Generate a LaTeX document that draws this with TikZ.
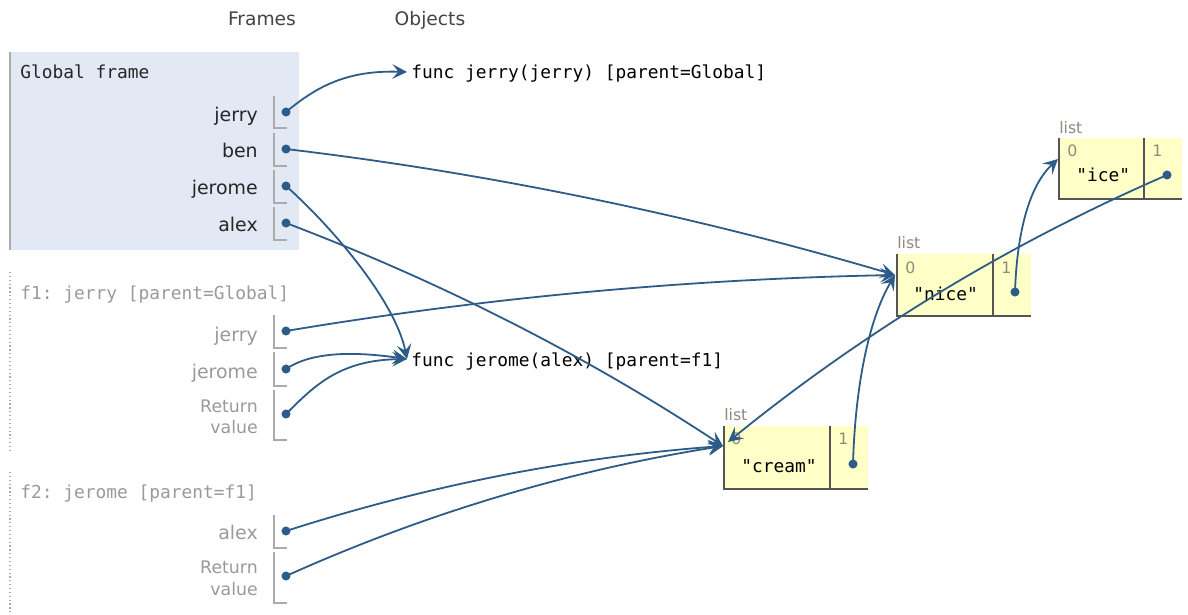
\documentclass[tikz,border=0pt]{standalone}
\usepackage{fontspec}
\setmainfont{DejaVu Sans}
\setmonofont{DejaVu Sans Mono}
\usetikzlibrary{arrows.meta}
\definecolor{arr}{HTML}{2E5C88}
\definecolor{gbg}{HTML}{E2E8F4}
\definecolor{cellbg}{HTML}{FFFFC8}
\definecolor{cellln}{HTML}{555555}
\definecolor{dim}{HTML}{9A9A9A}
\definecolor{brk}{HTML}{ABABAB}
\definecolor{hdr}{HTML}{444444}
\definecolor{idxc}{HTML}{8E8A7E}
\tikzset{
  hdrtxt/.style={anchor=base, inner sep=0, text=hdr, font=\fontsize{14}{16}\selectfont},
  vname/.style={anchor=base east, inner sep=0, text=black!85, font=\fontsize{14.2}{16}\selectfont},
  vdim/.style={vname, text=dim},
  rvname/.style={anchor=base east, inner sep=0, text=dim, font=\fontsize{13}{15}\selectfont},
  ftitle/.style={anchor=base west, inner sep=0, text=black!85, font=\ttfamily\fontsize{13.4}{15}\selectfont},
  ftdim/.style={ftitle, text=dim},
  objtxt/.style={anchor=base west, inner sep=0, text=black, font=\ttfamily\fontsize{13.4}{15}\selectfont},
  listlbl/.style={anchor=base west, inner sep=0, text=idxc, font=\fontsize{11.8}{13}\selectfont},
  idx/.style={anchor=base west, inner sep=0, text=idxc, font=\fontsize{11.8}{13}\selectfont},
  valtxt/.style={anchor=base west, inner sep=0, text=black, font=\ttfamily\fontsize{13.4}{15}\selectfont},
  dotn/.style={circle, fill=arr, inner sep=0, minimum size=6.8pt},
  bracket/.style={draw=brk, line width=0.9pt},
  cellline/.style={draw=cellln, line width=0.9pt},
  ptr/.style={draw=arr, line width=1.35pt, -{Stealth[length=11pt, width=11pt, inset=4.5pt]}},
}
\begin{document}
\begin{tikzpicture}[x=0.75pt, y=-0.75pt]
\useasboundingbox (0,0) rectangle (1188,614);
\fill[white] (0,0) rectangle (1188,614);

% headers
\node[hdrtxt] (hframes) at (262,26) {Frames};
\node[hdrtxt] (hobjects) at (430,26) {Objects};

% Global frame
\fill[gbg] (9,52) rectangle (299,250);
\draw[brk, line width=1.3pt] (10,52) -- (10,250);
\node[ftitle] (gtitle) at (20,78) {Global frame};
\node[vname] (lgjerry) at (258,121) {jerry};
\node[vname] (lgben) at (258,157) {ben};
\node[vname] (lgjerome) at (258,194) {jerome};
\node[vname] (lgalex) at (258,231) {alex};
\draw[bracket] (274,96) |- (287,128);
\draw[bracket] (274,133) |- (287,166);
\draw[bracket] (274,170) |- (287,203);
\draw[bracket] (274,207) |- (287,240);
\node[dotn] (gjerry) at (286,112) {};
\node[dotn] (gben) at (286,149) {};
\node[dotn] (gjerome) at (286,186) {};
\node[dotn] (galex) at (286,223) {};

% f1 frame
\draw[brk, line width=0.9pt, dotted] (10,272) -- (10,450);
\node[ftdim] (f1title) at (20,299) {f1: jerry [parent=Global]};
\node[vdim] (lf1jerry) at (258,341) {jerry};
\node[vdim] (lf1jerome) at (258,378) {jerome};
\node[rvname] (lf1ret) at (258,412) {Return};
\node[rvname] (lf1val) at (258,433) {value};
\draw[bracket] (274,315) |- (287,348);
\draw[bracket] (274,352) |- (287,386);
\draw[bracket] (274,390) |- (287,440);
\node[dotn] (f1jerry) at (286,331) {};
\node[dotn] (f1jerome) at (286,369) {};
\node[dotn] (f1ret) at (286,414) {};

% f2 frame
\draw[brk, line width=0.9pt, dotted] (10,472) -- (10,614);
\node[ftdim] (f2title) at (20,498) {f2: jerome [parent=f1]};
\node[vdim] (lf2alex) at (258,539) {alex};
\node[rvname] (lf2ret) at (258,573) {Return};
\node[rvname] (lf2val) at (258,595) {value};
\draw[bracket] (274,515) |- (287,548);
\draw[bracket] (274,552) |- (287,603);
\node[dotn] (f2alex) at (286,531) {};
\node[dotn] (f2ret) at (286,576) {};

% function objects
\node[objtxt] (fjerry) at (411,78) {func jerry(jerry) [parent=Global]};
\node[objtxt] (fjerome) at (411,366) {func jerome(alex) [parent=f1]};
\coordinate (fjerryin) at (407,72);
\coordinate (fjeromein) at (407,359);

% list: ice
\node[listlbl] (icelbl) at (1059,133) {list};
\fill[cellbg] (1059,138) rectangle (1182,199);
\draw[cellline] (1059,138) -- (1059,199) -- (1182,199);
\draw[cellline] (1144,138) -- (1144,199);
\node[idx] (ice0) at (1067,156) {0};
\node[idx] (ice1) at (1152,156) {1};
\node[valtxt] (iceval) at (1076,181) {"ice"};
\node[dotn] (ice1p) at (1167,175) {};
\coordinate (icein) at (1058,159);

% list: nice
\node[listlbl] (nicelbl) at (897,248) {list};
\fill[cellbg] (897,254) rectangle (1031,316);
\draw[cellline] (897,254) -- (897,316) -- (1031,316);
\draw[cellline] (993,254) -- (993,316);
\node[idx] (nice0) at (905,273) {0};
\node[idx] (nice1) at (1001,273) {1};
\node[valtxt] (niceval) at (913,300) {"nice"};
\node[dotn] (nice1p) at (1015,292) {};
\coordinate (nicein) at (895,275);

% list: cream
\node[listlbl] (creamlbl) at (724,420) {list};
\fill[cellbg] (724,426) rectangle (868,489);
\draw[cellline] (724,426) -- (724,489) -- (868,489);
\draw[cellline] (830,426) -- (830,489);
\node[idx] (cream0) at (731,444) {0};
\node[idx] (cream1) at (838,444) {1};
\node[valtxt] (creamval) at (741,472) {"cream"};
\node[dotn] (cream1p) at (853,464) {};
\coordinate (creamin) at (723,446);
\coordinate (creamin2) at (728,442);

% pointers
\draw[ptr] (gjerry.center) .. controls (315,88) and (345,70) .. (fjerryin);
\draw[ptr] (gben.center) .. controls (488,173) and (692,215) .. (nicein);
\draw[ptr] (gjerome.center) .. controls (330,225) and (395,300) .. (fjeromein);
\draw[ptr] (galex.center) .. controls (439,281) and (585,355) .. (creamin);
\draw[ptr] (f1jerry.center) .. controls (489,297) and (692,279) .. (nicein);
\draw[ptr] (f1jerome.center) .. controls (308,354) and (345,350) .. (fjeromein);
\draw[ptr] (f1ret.center) .. controls (315,385) and (340,360) .. (fjeromein);
\draw[ptr] (f2alex.center) .. controls (429,485) and (574,457) .. (creamin);
\draw[ptr] (f2ret.center) .. controls (426,513) and (571,470) .. (creamin);
\draw[ptr] (nice1p.center) .. controls (1017,230) and (1030,185) .. (icein);
\draw[ptr] (ice1p.center) .. controls (1008,244) and (862,333) .. (creamin2);
\draw[ptr] (cream1p.center) .. controls (855,390) and (868,320) .. (nicein);
\end{tikzpicture}
\end{document}
